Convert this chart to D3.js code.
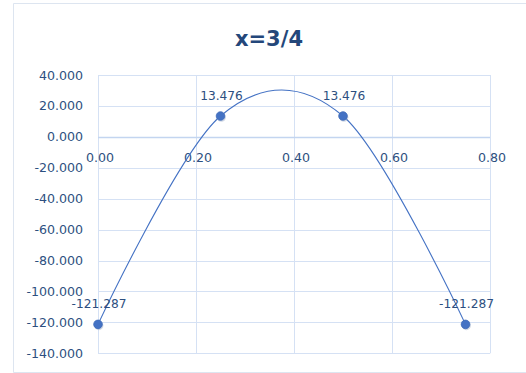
<!DOCTYPE html>
<html>
<head>
<meta charset="utf-8">
<script src="https://cdn.jsdelivr.net/npm/d3@7/dist/d3.min.js"></script>
<style>
  html, body { margin: 0; padding: 0; background: #fff; }
  svg { display: block; }
</style>
</head>
<body>
<div id="chart"></div>
<script>
const title = "x=3/4";
const xValues = [0, 0.25, 0.5, 0.75];
const yValues = [-121.287, 13.476, 13.476, -121.287];
const xTicks = [0, 0.2, 0.4, 0.6, 0.8];
const yTicks = [40, 20, 0, -20, -40, -60, -80, -100, -120, -140];

const W = 526, H = 373;
const plot = { left: 98, right: 490, top: 75, bottom: 353.3 };

const loc = d3.formatLocale({ decimal: ".", thousands: ",", grouping: [3], currency: ["", ""], minus: "-" });
const f3 = loc.format(".3f");
const f2 = loc.format(".2f");

const svg = d3.select("#chart").append("svg")
  .attr("width", W).attr("height", H);

// chart border
svg.append("path")
  .attr("d", `M${W},3.5 H13.5 V372.5 H${W}`)
  .attr("fill", "none").attr("stroke", "#dde5f0").attr("stroke-width", 1);

const x = d3.scaleLinear().domain([0, 0.8]).range([plot.left, plot.right]);
const y = d3.scaleLinear().domain([-140, 40]).range([plot.bottom, plot.top]);

const gridColor = "#d5e1f4";
const textColor = "#2d4f80";

// horizontal gridlines
svg.append("g").selectAll("line").data(yTicks).join("line")
  .attr("x1", plot.left).attr("x2", plot.right)
  .attr("y1", d => Math.round(y(d)) + 0.5).attr("y2", d => Math.round(y(d)) + 0.5)
  .attr("stroke", gridColor).attr("stroke-width", 1);

// vertical gridlines
svg.append("g").selectAll("line").data(xTicks).join("line")
  .attr("x1", d => Math.round(x(d)) + 0.5).attr("x2", d => Math.round(x(d)) + 0.5)
  .attr("y1", plot.top).attr("y2", plot.bottom)
  .attr("stroke", gridColor).attr("stroke-width", 1);

// x axis line at y=0
svg.append("line")
  .attr("x1", plot.left).attr("x2", plot.right)
  .attr("y1", Math.round(y(0)) + 0.5).attr("y2", Math.round(y(0)) + 0.5)
  .attr("stroke", "#c3d5f0").attr("stroke-width", 1.3);

// y tick labels
svg.append("g").selectAll("text").data(yTicks).join("text")
  .attr("x", 83).attr("y", d => y(d))
  .attr("dy", "0.36em")
  .attr("text-anchor", "end")
  .attr("font-family", "DejaVu Sans")
  .attr("font-size", 12.6)
  .attr("fill", textColor)
  .text(d => f3(d));

// x tick labels
svg.append("g").selectAll("text").data(xTicks).join("text")
  .attr("x", d => x(d) + 2).attr("y", y(0) + 25.5)
  .attr("text-anchor", "middle")
  .attr("font-family", "DejaVu Sans")
  .attr("font-size", 12.6)
  .attr("fill", textColor)
  .text(d => f2(d));

// title
svg.append("text")
  .attr("x", 269).attr("y", 45.5)
  .attr("text-anchor", "middle")
  .attr("font-family", "DejaVu Sans")
  .attr("font-weight", "bold")
  .attr("font-size", 21)
  .attr("fill", "#24477a")
  .text(title);

const data = xValues.map((v, i) => ({ x: v, y: yValues[i] }));

// smoothed line
const line = d3.line()
  .x(d => x(d.x)).y(d => y(d.y))
  .curve(d3.curveCardinal.tension(0));
svg.append("path")
  .datum(data)
  .attr("d", line)
  .attr("fill", "none")
  .attr("stroke", "#4472c4")
  .attr("stroke-width", 1.1);

// marker shadows
svg.append("g").selectAll("circle").data(data).join("circle")
  .attr("cx", d => x(d.x) + 0.8).attr("cy", d => y(d.y) + 1.2)
  .attr("r", 4.6)
  .attr("fill", "#9aa9c4").attr("opacity", 0.45);

// markers
svg.append("g").selectAll("circle").data(data).join("circle")
  .attr("cx", d => x(d.x)).attr("cy", d => y(d.y))
  .attr("r", 4.3)
  .attr("fill", "#4472c4")
  .attr("stroke", "#3f6bb8").attr("stroke-width", 0.8);

// data labels
svg.append("g").selectAll("text").data(data).join("text")
  .attr("x", d => x(d.x) + 1).attr("y", d => y(d.y) - 16.5)
  .attr("text-anchor", "middle")
  .attr("font-family", "DejaVu Sans")
  .attr("font-size", 12.2)
  .attr("fill", textColor)
  .text(d => f3(d.y));
</script>
</body>
</html>
